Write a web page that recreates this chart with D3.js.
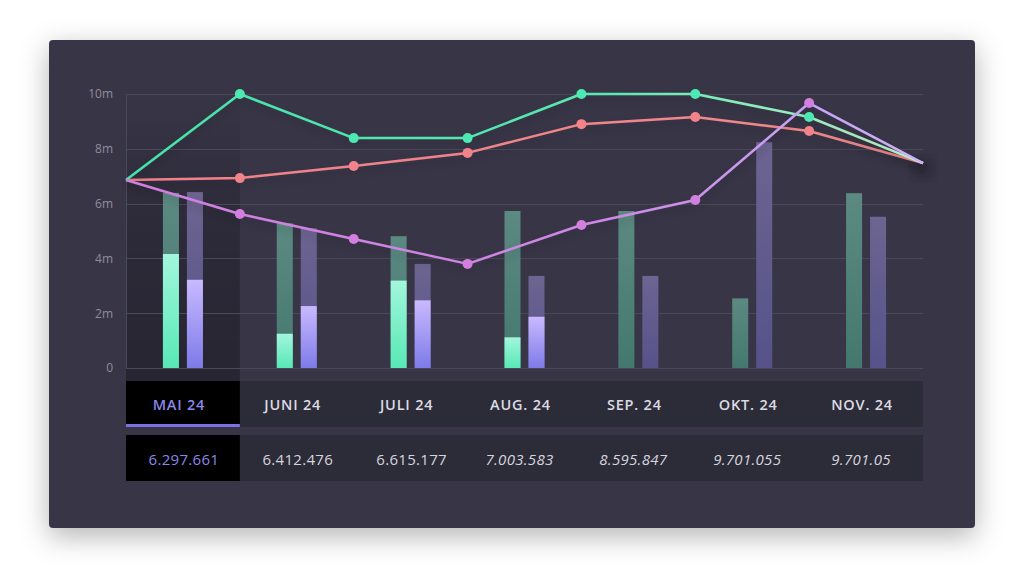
<!DOCTYPE html>
<html><head><meta charset="utf-8">
<script src="https://cdn.jsdelivr.net/npm/d3@7"></script>
<style>
html,body{margin:0;padding:0;background:#fff;width:1024px;height:588px;overflow:hidden;}
svg{display:block;}
</style></head><body>
<svg id="c" width="1024" height="588"></svg>
<script>
// ---- data ----
const months = ["MAI 24","JUNI 24","JULI 24","AUG. 24","SEP. 24","OKT. 24","NOV. 24"];
const totals = ["6.297.661","6.412.476","6.615.177","7.003.583","8.595.847","9.701.055","9.701.05"];
const forecast = [false,false,false,true,true,true,true];
const linePoints = [0,1,2,3,4,5,6,7];
const greenLine  = [6.86,10.0,8.39,8.39,10.0,10.0,9.16,7.48];
const redLine    = [6.86,6.93,7.37,7.85,8.90,9.16,8.65,7.48];
const purpleLine = [6.86,5.62,4.71,3.80,5.22,6.13,9.67,7.48];
const greenBar        = [6.39,5.28,4.81,5.73,5.73,2.54,6.38];
const greenBarActual  = [4.16,1.25,3.19,1.12,0,0,0];
const purpleBar       = [6.42,5.10,3.80,3.36,3.36,8.24,5.52];
const purpleBarActual = [3.22,2.26,2.47,1.87,0,0,0];
const yTicks = [0,2,4,6,8,10];
const selected = 0;

// ---- layout ----
const L = 126, R = 923, T = 94, B = 368;
const svg = d3.select("#c");
const defs = svg.append("defs");

const y = d3.scaleLinear().domain([0,10]).range([B,T]);
const xb = d3.scaleBand().domain(months).range([L,R]).padding(0);
const xp = d3.scaleLinear().domain([0,7]).range([L,R]);
const bw = xb.bandwidth();

function vgrad(id, stops){
  const g = defs.append("linearGradient").attr("id",id).attr("x1",0).attr("x2",0).attr("y1",0).attr("y2",1);
  stops.forEach(s=>g.append("stop").attr("offset",s[0]).attr("stop-color",s[1]));
}
function hgrad(id, stops){
  const g = defs.append("linearGradient").attr("id",id).attr("gradientUnits","userSpaceOnUse")
    .attr("x1",L).attr("x2",R).attr("y1",0).attr("y2",0);
  stops.forEach(s=>g.append("stop").attr("offset",s[0]).attr("stop-color",s[1]));
}
vgrad("gDim",[[0,"#5c8a82"],[1,"#44786f"]]);
vgrad("pDim",[[0,"#6d6591"],[1,"#56528a"]]);
vgrad("gBright",[[0,"#a2f6dc"],[1,"#58e8b6"]]);
vgrad("pBright",[[0,"#c9b9ff"],[1,"#7d7be8"]]);
const hb = defs.append("linearGradient").attr("id","hband").attr("gradientUnits","userSpaceOnUse")
  .attr("x1",0).attr("x2",0).attr("y1",T).attr("y2",381);
hb.append("stop").attr("offset",0).attr("stop-color","#000").attr("stop-opacity",0.0);
hb.append("stop").attr("offset",0.45).attr("stop-color","#000").attr("stop-opacity",0.2);
hb.append("stop").attr("offset",1).attr("stop-color","#000").attr("stop-opacity",0.3);
hgrad("lgGreen",[[0,"#44e4aa"],[0.6,"#5ae8b2"],[0.85,"#9cefc0"],[1,"#c8f5cc"]]);
hgrad("lgPurple",[[0,"#d07ee0"],[0.6,"#cf88e6"],[0.85,"#c7a2f4"],[1,"#cbb4f6"]]);
hgrad("lgRed",[[0,"#f0808a"],[1,"#f08a8a"]]);

const fCard = defs.append("filter").attr("id","cardShadow").attr("x","-20%").attr("y","-20%").attr("width","140%").attr("height","140%");
fCard.append("feDropShadow").attr("dx",0).attr("dy",8).attr("stdDeviation",14).attr("flood-color","#000").attr("flood-opacity",0.3);
const fLine = defs.append("filter").attr("id","lineShadow").attr("x","-10%").attr("y","-30%").attr("width","120%").attr("height","160%");
fLine.append("feDropShadow").attr("dx",0).attr("dy",5).attr("stdDeviation",5).attr("flood-color","#000").attr("flood-opacity",0.25);
const fBlur = defs.append("filter").attr("id","blur");
fBlur.append("feGaussianBlur").attr("stdDeviation",6);

// card
svg.append("rect").attr("x",49).attr("y",40).attr("width",926).attr("height",488).attr("rx",4)
  .attr("fill","#373547").attr("filter","url(#cardShadow)");

// highlighted column
svg.append("rect").attr("x",xb(months[selected])).attr("y",T).attr("width",bw).attr("height",381-T)
  .attr("fill","url(#hband)");

// grid
const grid = svg.append("g");
grid.selectAll("line").data(yTicks).join("line")
  .attr("x1",L).attr("x2",R).attr("y1",d=>Math.round(y(d))+0.5).attr("y2",d=>Math.round(y(d))+0.5)
  .attr("stroke","#4b4959").attr("stroke-width",1);
grid.append("line").attr("x1",L+0.5).attr("x2",L+0.5).attr("y1",T).attr("y2",B).attr("stroke","#4b4959");

// y axis labels via d3 axis
const yAxis = d3.axisLeft(y).tickValues(yTicks).tickSize(0).tickPadding(0)
  .tickFormat(d=>d===0?"0":d+"m");
const ya = svg.append("g").attr("transform","translate(113,0)").call(yAxis);
ya.select(".domain").remove();
ya.selectAll("text").attr("fill","#8f8d9d").attr("font-family","'Open Sans',sans-serif").attr("font-size",12);

// bars
const bars = svg.append("g");
months.forEach((m,i)=>{
  const c = xb(m)+bw/2;
  bars.append("rect").attr("x",c-20).attr("width",16).attr("y",y(greenBar[i])).attr("height",B-y(greenBar[i])).attr("fill","url(#gDim)");
  bars.append("rect").attr("x",c+4).attr("width",16).attr("y",y(purpleBar[i])).attr("height",B-y(purpleBar[i])).attr("fill","url(#pDim)");
  if(greenBarActual[i]>0)
    bars.append("rect").attr("x",c-20).attr("width",16).attr("y",y(greenBarActual[i])).attr("height",B-y(greenBarActual[i])).attr("fill","url(#gBright)");
  if(purpleBarActual[i]>0)
    bars.append("rect").attr("x",c+4).attr("width",16).attr("y",y(purpleBarActual[i])).attr("height",B-y(purpleBarActual[i])).attr("fill","url(#pBright)");
});

// end-point shadow blob
svg.append("circle").attr("cx",xp(7)).attr("cy",y(greenLine[7])+5).attr("r",12).attr("fill","#000").attr("opacity",0.18).attr("filter","url(#blur)");

// lines
const line = d3.line().x((d,i)=>xp(linePoints[i])).y(d=>y(d));
const series = [
  {vals:redLine, stroke:"url(#lgRed)", dot:"#f2838b"},
  {vals:greenLine, stroke:"url(#lgGreen)", dot:"#4ee8b2"},
  {vals:purpleLine, stroke:"url(#lgPurple)", dot:"#d27fe0"}
];
const lg = svg.append("g");
series.forEach(s=>{
  lg.append("path").datum(s.vals).attr("d",line).attr("fill","none").attr("stroke",s.stroke)
    .attr("stroke-width",2.5).attr("stroke-linejoin","round").attr("filter","url(#lineShadow)");
});
series.forEach(s=>{
  lg.selectAll(null).data(s.vals.slice(1,7)).join("circle")
    .attr("cx",(d,i)=>xp(linePoints[i+1])).attr("cy",d=>y(d)).attr("r",5).attr("fill",s.dot);
});

// table
const tb = svg.append("g");
tb.append("rect").attr("x",L).attr("y",381).attr("width",R-L).attr("height",46).attr("fill","#2c2b38");
tb.append("rect").attr("x",L).attr("y",435).attr("width",R-L).attr("height",46).attr("fill","#2c2b38");
tb.append("rect").attr("x",xb(months[selected])).attr("y",381).attr("width",bw).attr("height",43).attr("fill","#000");
tb.append("rect").attr("x",xb(months[selected])).attr("y",424).attr("width",bw).attr("height",3).attr("fill","#7b72e2");
tb.append("rect").attr("x",xb(months[selected])).attr("y",435).attr("width",bw).attr("height",46).attr("fill","#000");

tb.selectAll("text.h").data(months).join("text").attr("class","h")
  .attr("x",d=>xb(d)+bw/2-4).attr("y",410)
  .attr("text-anchor","middle").attr("font-family","'Open Sans',sans-serif").attr("font-weight",600)
  .attr("font-size",14.5).attr("letter-spacing",0.8)
  .attr("fill",(d,i)=>i===selected?"#8c86ea":"#dcdbe3").text(d=>d);

tb.selectAll("text.v").data(totals).join("text").attr("class","v")
  .attr("x",(d,i)=>xb(months[i])+bw/2+(forecast[i]?-5:1)).attr("y",465)
  .attr("text-anchor","middle").attr("font-family","'Open Sans',sans-serif").attr("font-weight",400)
  .attr("font-size",15).attr("letter-spacing",0.3)
  .attr("font-style",(d,i)=>forecast[i]?"italic":"normal")
  .attr("fill",(d,i)=>i===selected?"#8c86ea":"#d6d5de").text(d=>d);
</script>
</body></html>
